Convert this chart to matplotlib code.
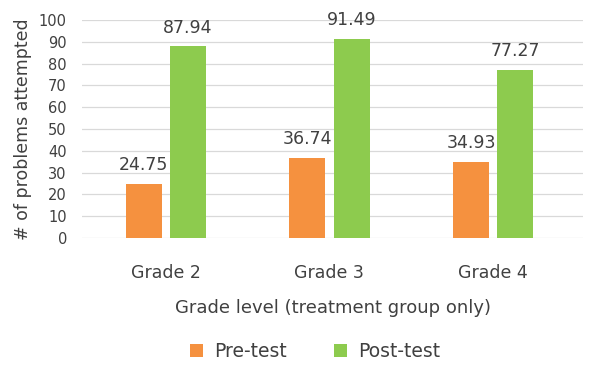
import matplotlib
matplotlib.use("Agg")
import matplotlib.pyplot as plt
import numpy as np

categories = ["Grade 2", "Grade 3", "Grade 4"]
pre_test = [24.75, 36.74, 34.93]
post_test = [87.94, 91.49, 77.27]
series_names = ["Pre-test", "Post-test"]
yticks = list(range(0, 101, 10))

plt.rcParams['font.family'] = ['DejaVu Sans']
txt = '#404040'
orange = '#F5913F'
green = '#8DCB4E'

fig = plt.figure(figsize=(6.0, 3.71), dpi=100)
ax = fig.add_axes([0.137, 0.3585, 0.835, 0.5875])

x = np.arange(len(categories))
w = 0.22
gap = 0.025
b1 = ax.bar(x - w/2 - gap, pre_test, w, color=orange, label=series_names[0], zorder=3)
b2 = ax.bar(x + w/2 + gap, post_test, w, color=green, label=series_names[1], zorder=3)

for bars in (b1, b2):
    for r in bars:
        ax.text(r.get_x() + r.get_width()/2, r.get_height() + 4.5, f"{r.get_height():.2f}",
                ha='center', va='bottom', fontsize=12.5, color=txt, zorder=4)

ax.set_ylim(0, 100)
ax.set_xlim(-0.51, 2.55)
ax.set_yticks(yticks)
ax.set_yticklabels([str(t) for t in yticks], fontsize=10.5, color=txt)
ax.set_xticks(x)
ax.set_xticklabels(categories, fontsize=12.5, color=txt)
ax.tick_params(axis='both', length=0)
ax.tick_params(axis='x', pad=19)
ax.tick_params(axis='y', pad=11)
ax.grid(axis='y', color='#d9d9d9', linewidth=0.9, zorder=0)
for s in ax.spines.values():
    s.set_visible(False)

ax.set_ylabel("# of problems attempted", fontsize=12.5, color=txt, labelpad=5)
ax.set_xlabel("Grade level (treatment group only)", fontsize=13, color=txt, labelpad=12)

leg = ax.legend(loc='upper center', bbox_to_anchor=(0.465, -0.40), ncol=2, frameon=False,
                fontsize=13.5, handlelength=0.7, handleheight=0.7, columnspacing=2.5,
                handletextpad=0.6)
for t in leg.get_texts():
    t.set_color(txt)

fig.savefig("out.png", dpi=100, facecolor='white')
